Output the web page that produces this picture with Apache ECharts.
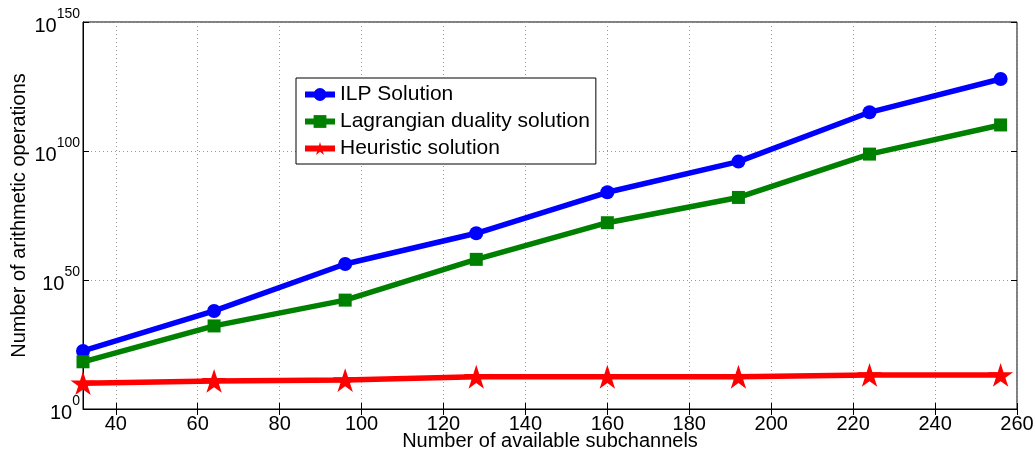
<!DOCTYPE html>
<html>
<head>
<meta charset="utf-8">
<script src="https://cdn.jsdelivr.net/npm/echarts@6/dist/echarts.min.js"></script>
<style>
  html, body { margin: 0; padding: 0; background: #fff; }
  #main { width: 1035px; height: 456px; }
</style>
</head>
<body>
<div id="main"></div>
<script>
// subchannels on x, operation counts stored as exponents of 10
var subchannels = [32, 64, 96, 128, 160, 192, 224, 256];
var ilpExp = [22.5, 38, 56.2, 68.1, 84, 95.9, 115, 127.9];
var lagrangeExp = [18.3, 32.2, 42.2, 58, 72.2, 82, 98.8, 110.1];
var heuristicExp = [10, 10.9, 11.2, 12.5, 12.5, 12.5, 13.2, 13.2];
var xTicks = [40, 60, 80, 100, 120, 140, 160, 180, 200, 220, 240, 260];
var yTicks = [0, 50, 100, 150];

var starPath = 'path://M50,0L61.17,34.63L97.55,34.55L68.07,55.87L79.39,90.45L50,69L20.61,90.45L31.93,55.87L2.45,34.55L38.83,34.63Z';
var font = 'Liberation Sans, Arial, sans-serif';

function pairs(ys) {
    var res = [];
    for (var i = 0; i < subchannels.length; i++) {
        res.push([subchannels[i], ys[i]]);
    }
    return res;
}

var myChart = echarts.init(document.getElementById('main'));

var option = {
    animation: false,
    backgroundColor: '#fff',
    grid: {
        left: 83, right: 18, top: 22, bottom: 47,
        outerBoundsMode: 'none',
        show: true, borderColor: '#000', borderWidth: 1
    },
    legend: {
        orient: 'vertical',
        left: 296, top: 78,
        padding: [6, 6, 5, 6],
        itemWidth: 30, itemHeight: 16, itemGap: 6,
        borderColor: '#000', borderWidth: 1,
        backgroundColor: '#fff',
        lineStyle: { width: 6 },
        textStyle: { fontFamily: font, fontSize: 21, color: '#000' },
        data: ['ILP Solution', 'Lagrangian duality solution', 'Heuristic solution']
    },
    xAxis: [{
        type: 'value',
        min: 32, max: 260,
        name: 'Number of available subchannels',
        nameLocation: 'middle',
        nameGap: 22,
        nameMoveOverlap: false,
        nameTextStyle: { fontFamily: font, fontSize: 20, color: '#000' },
        axisLine: { lineStyle: { color: '#000' } },
        axisTick: { inside: true, length: 6, customValues: xTicks, lineStyle: { color: '#000' } },
        axisLabel: { customValues: xTicks, fontFamily: font, fontSize: 20, color: '#000', margin: 5 },
        splitLine: { show: true, lineStyle: { color: '#999', type: [1, 3], width: 1 } }
    }, {
        type: 'value',
        position: 'top',
        min: 32, max: 260,
        axisLine: { show: false },
        axisTick: { inside: true, length: 6, customValues: xTicks, lineStyle: { color: '#000' } },
        axisLabel: { show: false },
        splitLine: { show: false }
    }],
    yAxis: [{
        type: 'value',
        min: 0, max: 150, interval: 50,
        name: 'Number of arithmetic operations',
        nameLocation: 'middle',
        nameGap: 54,
        nameMoveOverlap: false,
        nameTextStyle: { fontFamily: font, fontSize: 20, color: '#000' },
        axisLine: { show: true, lineStyle: { color: '#000' } },
        axisTick: { inside: true, length: 6, lineStyle: { color: '#000' } },
        axisLabel: {
            margin: 3,
            formatter: function (v) { return '{b|10}{e|' + v + '}'; },
            rich: {
                b: { fontFamily: font, fontSize: 20, color: '#000', padding: [8, 0, 0, 0] },
                e: { fontFamily: font, fontSize: 14, color: '#000', padding: [0, 0, 16, 0] }
            }
        },
        splitLine: { show: true, lineStyle: { color: '#999', type: [1, 3], width: 1 } }
    }, {
        type: 'value',
        position: 'right',
        min: 0, max: 150, interval: 50,
        axisLine: { show: false },
        axisTick: { show: true, inside: true, length: 6, lineStyle: { color: '#000' } },
        axisLabel: { show: false },
        splitLine: { show: false }
    }],
    series: [{
        name: 'ILP Solution',
        type: 'line',
        data: pairs(ilpExp),
        symbol: 'circle', symbolSize: 14,
        lineStyle: { color: '#0000ff', width: 5.5 },
        itemStyle: { color: '#0000ff' }
    }, {
        name: 'Lagrangian duality solution',
        type: 'line',
        data: pairs(lagrangeExp),
        symbol: 'rect', symbolSize: 13,
        lineStyle: { color: '#008000', width: 5.5 },
        itemStyle: { color: '#008000' }
    }, {
        name: 'Heuristic solution',
        type: 'line',
        data: pairs(heuristicExp),
        symbol: starPath, symbolSize: 25, symbolKeepAspect: true,
        lineStyle: { color: '#ff0000', width: 5.5 },
        itemStyle: { color: '#ff0000' }
    }]
};

myChart.setOption(option);
window.addEventListener('resize', function () {
    myChart.resize();
});
</script>
</body>
</html>
